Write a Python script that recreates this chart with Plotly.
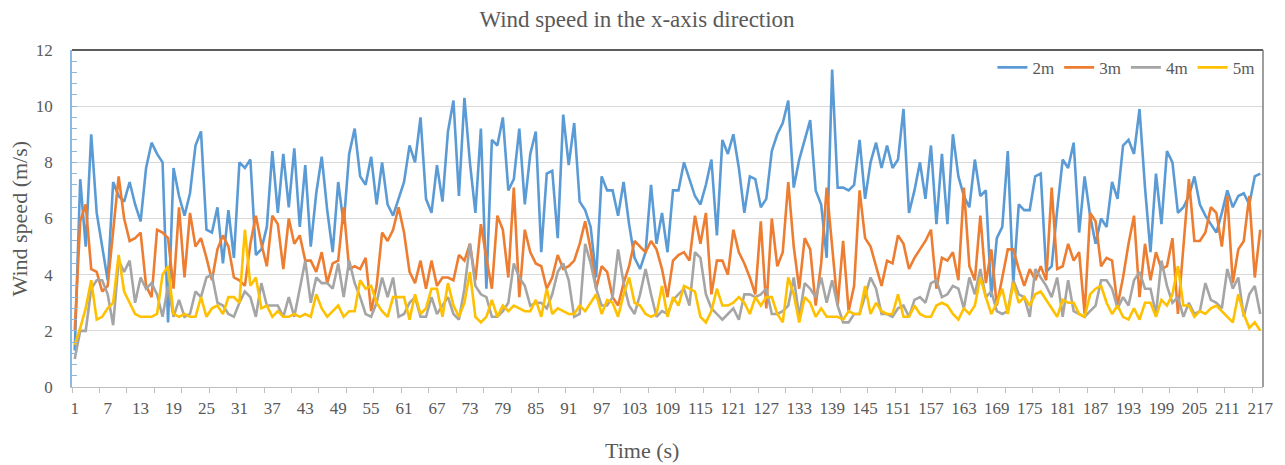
import plotly.graph_objects as go

time_s = list(range(1, 218))

wind_2m = [
    1.3, 7.4, 5.0, 9.0, 6.2, 5.0, 3.8, 7.3, 6.8, 6.6,
    7.3, 6.5, 5.9, 7.8, 8.7, 8.3, 8.0, 2.3, 7.8, 6.8,
    6.1, 6.9, 8.6, 9.1, 5.6, 5.5, 6.4, 4.4, 6.3, 4.6,
    8.0, 7.8, 8.1, 4.7, 4.9, 5.7, 8.4, 6.2, 8.3, 6.4,
    8.5, 5.7, 7.9, 5.0, 6.9, 8.2, 6.3, 4.8, 7.3, 5.8,
    8.3, 9.2, 7.5, 7.2, 8.2, 6.5, 8.0, 6.5, 6.1, 6.7,
    7.3, 8.6, 8.0, 9.6, 6.7, 6.2, 7.9, 6.6, 9.1, 10.2,
    6.8, 10.3, 8.0, 6.2, 9.2, 3.5, 8.8, 8.6, 9.6, 7.0,
    7.4, 9.2, 6.5, 8.3, 9.1, 4.8, 7.6, 7.7, 5.3, 9.7,
    7.9, 9.4, 6.6, 6.3, 5.7, 3.9, 7.5, 7.0, 7.0, 6.1,
    7.3, 5.8, 4.6, 4.2, 4.8, 7.2, 5.1, 6.2, 4.8, 7.0,
    7.0, 8.0, 7.4, 6.8, 6.5, 7.2, 8.1, 5.4, 8.8, 8.3,
    9.0, 7.8, 6.2, 7.5, 7.4, 6.4, 6.7, 8.4, 9.0, 9.4,
    10.2, 7.1, 8.1, 8.8, 9.5, 7.0, 6.5, 4.6, 11.3, 7.1,
    7.1, 7.0, 7.2, 8.8, 6.7, 8.0, 8.7, 7.8, 8.6, 7.8,
    8.1, 9.9, 6.2, 7.0, 8.0, 6.7, 8.6, 5.8, 8.3, 5.8,
    9.0, 7.5, 6.8, 6.4, 8.1, 6.8, 7.0, 3.2, 5.3, 5.7,
    8.4, 3.7, 6.5, 6.3, 6.3, 7.5, 7.6, 4.1, 4.3, 6.3,
    8.1, 7.8, 8.7, 5.5, 7.5, 6.1, 5.1, 6.0, 5.7, 7.3,
    6.7, 8.6, 8.8, 8.3, 9.9, 7.1, 4.8, 7.6, 5.8, 8.4,
    8.0, 6.2, 6.4, 6.8, 7.5, 6.5, 6.1, 5.8, 5.5, 6.2,
    7.0, 6.4, 6.8, 6.9, 6.5, 7.5, 7.6,
]

wind_3m = [
    2.0, 5.9, 6.5, 4.2, 4.1, 3.4, 3.6, 5.5, 7.5, 6.0,
    5.2, 5.3, 5.5, 3.6, 3.2, 5.6, 5.5, 5.3, 3.5, 6.4,
    3.9, 6.2, 5.0, 5.3, 4.6, 3.8, 4.9, 5.4, 5.0, 3.9,
    3.8, 3.6, 5.1, 6.1, 5.1, 4.3, 6.1, 5.8, 4.2, 6.0,
    5.1, 5.4, 4.5, 4.5, 4.1, 4.8, 3.7, 4.4, 4.5, 6.4,
    4.2, 4.3, 4.2, 4.6, 2.7, 3.6, 5.5, 5.2, 5.6, 6.4,
    5.5, 4.1, 3.7, 4.5, 3.5, 4.5, 3.6, 3.9, 3.9, 3.8,
    4.7, 4.5, 5.1, 3.8, 5.8, 4.6, 3.5, 6.1, 5.6, 3.9,
    7.1, 3.2, 5.6, 4.8, 4.4, 4.3, 3.5, 3.9, 4.7, 4.2,
    4.3, 4.5, 5.1, 5.9, 4.9, 3.5, 4.3, 4.1, 3.2, 2.9,
    3.7, 4.3, 5.2, 5.0, 4.8, 5.2, 4.9, 4.2, 3.2, 4.5,
    4.7, 4.8, 4.5, 6.1, 5.1, 6.2, 3.3, 4.5, 4.5, 4.0,
    5.6, 4.8, 4.4, 3.9, 3.3, 5.9, 2.8, 6.0, 4.3, 4.8,
    7.3, 5.0, 3.5, 5.3, 4.9, 2.9, 4.4, 7.1, 5.1, 2.9,
    5.2, 2.7, 3.6, 7.0, 5.3, 5.0, 4.3, 3.6, 4.5, 4.4,
    5.4, 5.1, 4.2, 4.6, 4.9, 5.2, 5.6, 3.5, 4.6, 4.5,
    4.8, 3.8, 7.1, 4.3, 3.8, 6.1, 3.7, 4.9, 2.9, 3.9,
    4.9, 4.9, 4.2, 3.6, 4.2, 3.8, 4.3, 3.8, 7.1, 4.2,
    4.3, 5.1, 4.5, 4.8, 2.6, 6.2, 5.9, 4.3, 4.6, 4.5,
    2.9, 3.9, 5.1, 6.1, 3.2, 5.1, 3.8, 4.8, 4.2, 4.3,
    5.3, 2.6, 5.0, 7.4, 5.2, 5.2, 5.5, 6.4, 6.2, 5.0,
    6.8, 3.7, 4.9, 5.2, 6.8, 3.9, 5.6,
]

wind_4m = [
    1.0, 2.0, 2.0, 3.5, 3.8, 3.8, 3.3, 2.2, 4.5, 4.1,
    4.5, 3.0, 3.9, 3.5, 3.7, 3.3, 2.5, 3.6, 2.5, 3.1,
    2.5, 2.6, 3.4, 3.2, 3.9, 4.0, 3.0, 2.9, 2.6, 2.5,
    3.0, 3.4, 3.2, 2.5, 3.7, 2.9, 2.9, 2.9, 2.5, 3.2,
    2.5, 3.5, 4.5, 3.0, 3.9, 3.7, 3.7, 3.5, 4.4, 3.2,
    4.5, 3.7, 3.2, 2.6, 2.5, 3.0, 3.9, 3.2, 3.9, 2.5,
    2.6, 3.0, 3.2, 2.5, 2.5, 3.2, 2.6, 2.9, 3.2, 2.6,
    2.4, 3.5, 5.1, 3.6, 3.3, 3.2, 2.5, 2.5, 2.7, 3.0,
    4.4, 3.9, 3.6, 2.9, 3.0, 3.0, 2.8, 3.3, 4.1, 4.4,
    3.8, 2.5, 2.6, 5.1, 4.4, 3.5, 2.9, 2.9, 3.2, 4.9,
    3.7, 2.9, 2.6, 3.3, 4.2, 3.3, 2.5, 2.7, 2.6, 3.1,
    3.3, 3.5, 2.9, 4.8, 4.6, 3.3, 2.8, 2.6, 2.4, 2.6,
    2.8, 2.4, 3.3, 3.3, 3.2, 3.3, 3.5, 2.6, 2.6, 2.7,
    2.9, 3.9, 2.5, 3.7, 3.5, 3.2, 3.9, 3.0, 3.8, 2.9,
    2.3, 2.3, 2.6, 2.6, 3.3, 3.9, 3.5, 2.6, 2.6, 2.5,
    2.8, 2.9, 2.5, 3.1, 3.2, 3.0, 3.7, 3.8, 3.2, 3.3,
    3.6, 3.5, 2.8, 3.9, 3.3, 4.2, 3.2, 3.4, 2.7, 2.6,
    2.7, 3.8, 3.3, 3.2, 2.5, 4.2, 3.9, 3.6, 3.2, 3.9,
    2.5, 3.8, 2.7, 2.6, 2.5, 2.7, 2.9, 3.8, 3.8, 3.5,
    2.8, 3.2, 2.9, 3.8, 4.1, 3.5, 3.5, 2.6, 4.5, 3.6,
    3.0, 3.2, 2.5, 3.0, 2.6, 2.7, 3.7, 3.1, 3.0, 2.8,
    4.2, 3.5, 3.9, 2.5, 3.3, 3.6, 2.6,
]

wind_5m = [
    1.5, 2.1, 2.8, 3.8, 2.4, 2.5, 2.8, 3.0, 4.7, 3.4,
    3.0, 2.6, 2.5, 2.5, 2.5, 2.6, 4.0, 4.3, 2.6, 2.5,
    2.6, 2.5, 2.5, 3.2, 2.5, 2.8, 2.9, 2.6, 3.2, 3.2,
    3.0, 5.6, 3.6, 3.9, 2.8, 2.9, 2.5, 2.7, 2.5, 2.5,
    2.6, 2.5, 2.6, 2.5, 3.3, 2.8, 2.5, 2.7, 2.9, 2.5,
    2.7, 2.7, 3.8, 3.5, 3.6, 3.0, 2.7, 2.5, 3.2, 3.2,
    3.2, 2.4, 3.3, 2.6, 2.8, 3.5, 3.5, 2.5, 3.7, 2.9,
    2.5, 3.0, 4.1, 2.5, 2.3, 2.5, 3.1, 2.5, 2.9, 2.7,
    2.9, 2.8, 2.7, 2.7, 3.1, 2.5, 3.5, 2.6, 2.8, 2.7,
    2.6, 2.6, 2.9, 2.7, 3.0, 3.3, 2.6, 3.1, 3.0, 2.5,
    3.3, 3.9, 3.0, 2.9, 2.6, 2.5, 2.6, 3.6, 2.5, 3.2,
    2.9, 3.6, 3.5, 3.4, 2.5, 2.3, 2.7, 3.5, 2.9, 2.9,
    3.0, 3.2, 3.0, 2.6, 3.2, 2.9, 3.2, 3.2, 2.6, 2.3,
    3.9, 3.3, 2.3, 3.2, 3.0, 2.5, 2.8, 2.5, 2.5, 2.5,
    2.4, 2.7, 2.6, 2.6, 3.6, 2.6, 3.0, 2.7, 2.6, 2.6,
    3.3, 2.5, 2.5, 2.9, 2.6, 2.5, 2.5, 2.9, 3.0, 2.9,
    2.6, 2.4, 2.8, 2.6, 2.9, 3.9, 3.2, 2.6, 3.0, 3.5,
    2.6, 3.7, 3.0, 3.2, 2.9, 3.3, 3.4, 3.1, 2.8, 2.5,
    3.1, 3.0, 3.0, 2.6, 2.5, 3.3, 3.5, 3.6, 3.0, 2.6,
    2.9, 2.5, 2.4, 2.8, 2.4, 3.0, 3.0, 2.5, 3.1, 2.9,
    3.3, 4.3, 2.9, 2.9, 2.5, 2.7, 2.6, 2.8, 2.9, 2.7,
    2.5, 2.3, 3.3, 2.6, 2.1, 2.3, 2.0,
]

series_names = ["2m", "3m", "4m", "5m"]
series_values = [wind_2m, wind_3m, wind_4m, wind_5m]
series_colors = ["#5B9BD5", "#ED7D31", "#A5A5A5", "#FFC000"]

x_label_vals = list(range(1, 218, 6))
x_minor_ticks = [0.5 + 5 * i for i in range(44)]

SERIF = "Liberation Serif, Times New Roman, serif"
TXT = "#595959"

# page has an 8px body margin; figure is sized so the plot lands where the reference has it
FIG_W, FIG_H = 1277, 457

fig = go.Figure()
for name, vals, col in zip(series_names, series_values, series_colors):
    fig.add_trace(go.Scatter(
        x=time_s, y=vals, name=name, mode="lines",
        line=dict(color=col, width=2.6),
    ))

fig.update_layout(
    width=FIG_W, height=FIG_H,
    margin=dict(l=64, r=22, t=42, b=78),
    paper_bgcolor="white", plot_bgcolor="white",
    font=dict(family=SERIF, color=TXT, size=17),
    title=dict(text="Wind speed in the x-axis direction", x=629 / FIG_W, xref="container",
               xanchor="center", y=1 - 11 / FIG_H, yref="container", yanchor="middle",
               font=dict(family=SERIF, size=23, color=TXT)),
    legend=dict(orientation="h", x=0.997, xanchor="right", y=0.947, yanchor="middle",
                bgcolor="rgba(0,0,0,0)", font=dict(family=SERIF, size=17, color=TXT),
                itemwidth=30, tracegroupgap=0),
    showlegend=True,
)

fig.update_xaxes(
    range=[0.5, 217.5], tickmode="array", tickvals=x_label_vals,
    ticktext=[str(v) for v in x_label_vals], ticks="", showgrid=False, zeroline=False,
    showline=True, linecolor="#BFBFBF", linewidth=1,
    tickfont=dict(family=SERIF, size=17, color=TXT), ticklabelstandoff=6,
    minor=dict(tickmode="array", tickvals=x_minor_ticks, ticks="outside", ticklen=5,
               tickcolor="#BFBFBF", showgrid=False),
)
fig.update_yaxes(
    range=[0, 12], dtick=2, showgrid=True, gridcolor="#D9D9D9", gridwidth=1,
    zeroline=False, showline=True, linecolor="#8DB8E0", linewidth=1.5,
    ticks="inside", ticklen=5, tickcolor="#8DB8E0",
    tickfont=dict(family=SERIF, size=17, color=TXT), ticklabelstandoff=14,
    minor=dict(dtick=0.4, ticks="inside", ticklen=5, tickcolor="#8DB8E0", showgrid=False),
)

fig.add_shape(type="line", xref="paper", yref="paper", x0=0, x1=1, y0=1, y1=1,
              line=dict(color="#262626", width=1.5))
fig.add_shape(type="line", xref="paper", yref="paper", x0=1, x1=1, y0=0, y1=1,
              line=dict(color="#7F7F7F", width=1.5))

fig.add_annotation(text="Wind speed (m/s)", xref="paper", yref="paper",
                   x=-0.0437, y=0.5, xanchor="center", yanchor="middle", textangle=-90,
                   showarrow=False, font=dict(family=SERIF, size=22, color=TXT))
fig.add_annotation(text="Time (s)", xref="paper", yref="paper",
                   x=0.479, y=-0.187, xanchor="center", yanchor="middle",
                   showarrow=False, font=dict(family=SERIF, size=22, color=TXT))

fig.write_html("out.html")
